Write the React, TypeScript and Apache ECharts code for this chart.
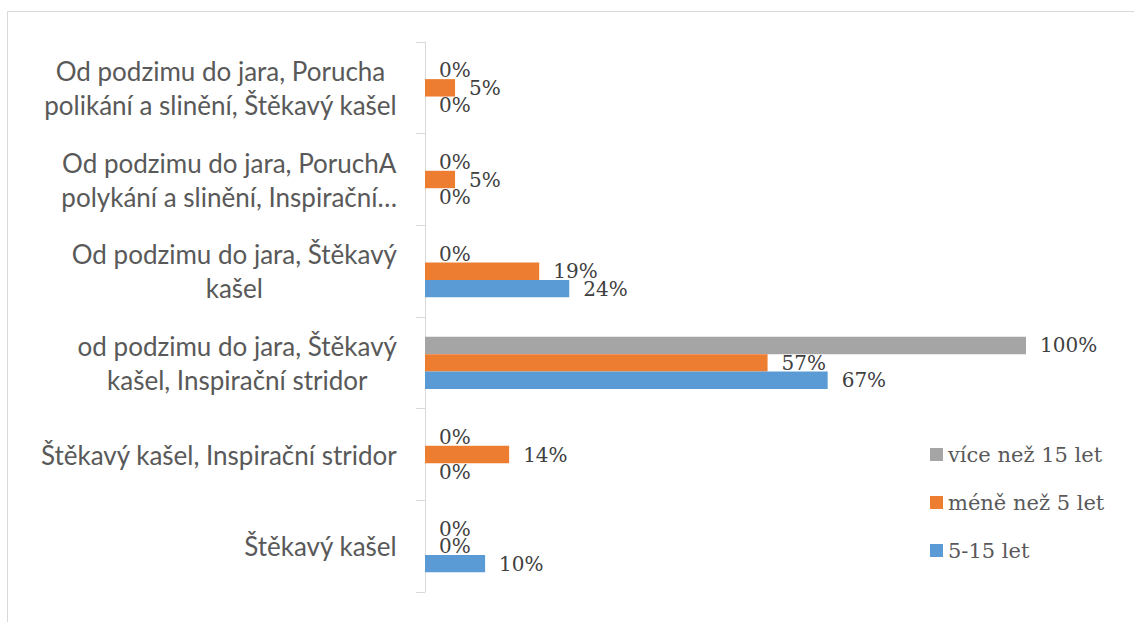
import React, { useEffect, useRef } from "react";
import * as echarts from "echarts";

const categories: string[] = [
  "Štěkavý kašel",
  "Štěkavý kašel, Inspirační stridor",
  "od podzimu do jara, Štěkavý\nkašel, Inspirační stridor",
  "Od podzimu do jara, Štěkavý\nkašel",
  "Od podzimu do jara, PoruchA\npolykání a slinění, Inspirační…",
  "Od podzimu do jara, Porucha\npolikání a slinění, Štěkavý kašel",
];

// drawn top-to-bottom within each category: gray, orange, blue
const seriesNames: string[] = ["více než 15 let", "méně než 5 let", "5-15 let"];
const over15: number[] = [0, 0, 1.0, 0, 0, 0];
const under5: number[] = [0, 0.14, 0.57, 0.19, 0.05, 0.05];
const age5to15: number[] = [0.1, 0, 0.67, 0.24, 0, 0];
const legendOrder: string[] = ["více než 15 let", "méně než 5 let", "5-15 let"];
const colors: string[] = ["#A5A5A5", "#ED7D31", "#5B9BD5"];

const serif = "'DejaVu Serif', 'Liberation Serif', serif";
const sans = "Lato, 'Open Sans', 'Noto Sans', sans-serif";

export default function App() {
  const ref = useRef<HTMLDivElement>(null);
  useEffect(() => {
    if (!ref.current) return;
    const chart = echarts.init(ref.current, undefined, { renderer: "svg" });
    const values = [over15, under5, age5to15];
    const series = seriesNames.map((name, i) => ({
      name,
      type: "bar",
      data: values[i],
      barGap: "0%",
      barCategoryGap: "43%",
      itemStyle: { color: colors[i] },
      label: {
        show: true,
        position: "right",
        distance: 14,
        formatter: (p: any) => Math.round(p.value * 100) + "%",
        fontFamily: serif,
        fontSize: 20,
        color: "#404040",
      },
    }));
    chart.setOption({
      animation: false,
      backgroundColor: "#ffffff",
      grid: { left: 425, top: 42, width: 601, height: 550, containLabel: false },
      xAxis: {
        type: "value",
        min: 0,
        max: 1,
        show: false,
      },
      yAxis: {
        type: "category",
        data: categories,
        inverse: false,
        axisLine: { show: true, lineStyle: { color: "#d9d9d9", width: 1 } },
        axisTick: { show: true, length: 9, lineStyle: { color: "#d9d9d9" } },
        axisLabel: {
          margin: 28,
          fontFamily: sans,
          fontSize: 26,
          color: "#595959",
          lineHeight: 34,
          formatter: (v: string) =>
            v
              .split("\n")
              .map((l) => "{c|" + l + "}")
              .join("\n"),
          rich: {
            c: {
              align: "center",
              fontFamily: sans,
              fontSize: 26,
              color: "#595959",
              lineHeight: 34,
            },
          },
        },
      },
      legend: {
        data: legendOrder,
        orient: "vertical",
        left: 930,
        top: 444,
        padding: 0,
        itemWidth: 13,
        itemHeight: 13,
        itemGap: 27,
        icon: "rect",
        textStyle: { fontFamily: serif, fontSize: 21, color: "#595959" },
      },
      graphic: [
        {
          type: "rect",
          shape: { x: 7.5, y: 11.5, width: 1200, height: 700 },
          style: { fill: "none", stroke: "#d9d9d9", lineWidth: 1 },
          silent: true,
        },
      ],
      series,
    });
    return () => chart.dispose();
  }, []);
  return (
    <div
      ref={ref}
      style={{ position: "fixed", left: 0, top: 0, width: 1134, height: 622 }}
    />
  );
}
